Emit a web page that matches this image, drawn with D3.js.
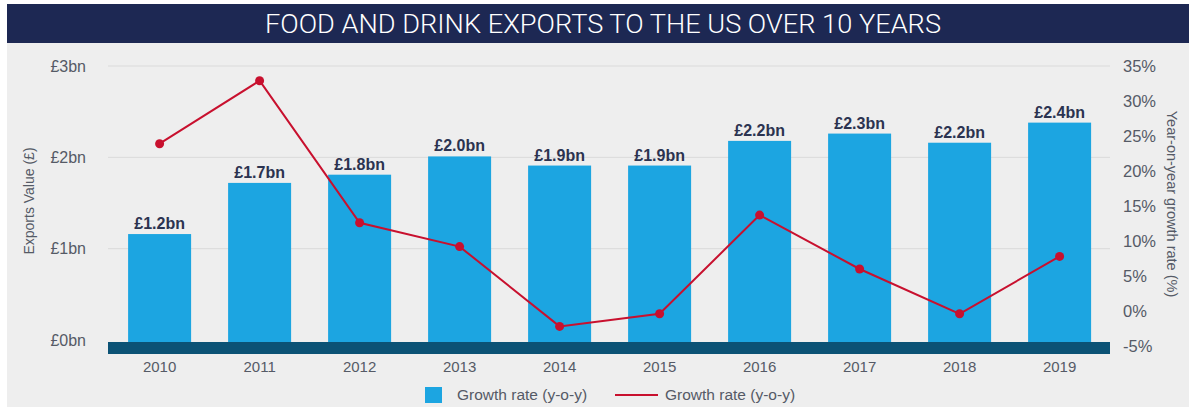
<!DOCTYPE html>
<html>
<head>
<meta charset="utf-8">
<script src="https://cdn.jsdelivr.net/npm/d3@7"></script>
<style>
  html, body { margin: 0; padding: 0; background: #ffffff; }
  svg { display: block; }
</style>
</head>
<body>
<svg id="chart" width="1189" height="407"></svg>
<script>
// Food and drink exports to the US, 2010–2019
const years = ["2010", "2011", "2012", "2013", "2014", "2015", "2016", "2017", "2018", "2019"];
const exportsBn = [1.16, 1.72, 1.81, 2.01, 1.91, 1.91, 2.18, 2.26, 2.16, 2.38];
const growthPct = [23.9, 32.9, 12.6, 9.2, -2.2, -0.4, 13.7, 6.0, -0.4, 7.8];
const leftTicks = [0, 1, 2, 3];
const rightTicks = [-5, 0, 5, 10, 15, 20, 25, 30, 35];
const titleText = "FOOD AND DRINK EXPORTS TO THE US OVER 10 YEARS";
const legendItems = ["Growth rate (y-o-y)", "Growth rate (y-o-y)"];

const W = 1189, H = 407;
const svg = d3.select("#chart");

const colors = {
  bg: "#eeeeee",
  title: "#1d2853",
  bar: "#1ca5e1",
  base: "#0b5275",
  line: "#c8102e",
  grid: "#dadada",
  text: "#555a66",
  label: "#2b3350"
};
const font = "'Liberation Sans', Arial, sans-serif";

// frame
svg.append("rect").attr("x", 7).attr("y", 43).attr("width", W - 7).attr("height", H - 43).attr("fill", colors.bg);
svg.append("rect").attr("x", 7).attr("y", 4).attr("width", W - 7).attr("height", 39).attr("fill", colors.title);
svg.append("text")
  .attr("x", 603).attr("y", 33)
  .attr("text-anchor", "middle")
  .attr("fill", "#ffffff")
  .style("font-family", "Roboto, 'Liberation Sans', sans-serif")
  .style("font-weight", "300")
  .style("font-size", "25px")
  .attr("textLength", 676)
  .attr("lengthAdjust", "spacingAndGlyphs")
  .text(titleText);

// scales
const x = d3.scaleBand().domain(years).range([109.6, 1109.6]).paddingInner(0.37).paddingOuter(0.185);
const yL = d3.scaleLinear().domain([0, 3]).range([340, 66]);
const yR = d3.scaleLinear().domain([-5, 35]).range([346, 66]);

const plotLeft = 108, plotRight = 1110;

// gridlines
svg.append("g").selectAll("line")
  .data(leftTicks.filter(d => d > 0))
  .join("line")
  .attr("x1", plotLeft).attr("x2", plotRight)
  .attr("y1", d => yL(d)).attr("y2", d => yL(d))
  .attr("stroke", colors.grid).attr("stroke-width", 1);

// left axis
const leftAxis = d3.axisLeft(yL).tickValues(leftTicks).tickSize(0).tickPadding(0)
  .tickFormat(d => "£" + d + "bn");
const gL = svg.append("g").attr("transform", "translate(86,0)").call(leftAxis);
gL.select(".domain").remove();
gL.selectAll("text")
  .attr("fill", colors.text)
  .style("font-family", font)
  .style("font-size", "16px");

// right axis
const rightAxis = d3.axisRight(yR).tickValues(rightTicks).tickSize(0).tickPadding(0)
  .tickFormat(d => d + "%");
const gR = svg.append("g").attr("transform", "translate(1123,0)").call(rightAxis);
gR.select(".domain").remove();
gR.selectAll("text")
  .attr("fill", colors.text)
  .style("font-family", font)
  .style("font-size", "16.5px");

// axis titles
svg.append("text")
  .attr("transform", "translate(34,201) rotate(-90)")
  .attr("text-anchor", "middle")
  .attr("fill", colors.text)
  .style("font-family", font)
  .style("font-size", "14px")
  .text("Exports Value (£)");
svg.append("text")
  .attr("transform", "translate(1167,204) rotate(90)")
  .attr("text-anchor", "middle")
  .attr("fill", colors.text)
  .style("font-family", font)
  .style("font-size", "14.5px")
  .text("Year-on-year growth rate (%)");

// bars
const barData = years.map((y, i) => ({ year: y, value: exportsBn[i] }));
svg.append("g").selectAll("rect")
  .data(barData)
  .join("rect")
  .attr("x", d => x(d.year))
  .attr("width", x.bandwidth())
  .attr("y", d => yL(d.value))
  .attr("height", d => yL(0) + 2 - yL(d.value))
  .attr("fill", colors.bar);

// bar value labels
const fmt = d3.format(".1f");
svg.append("g").selectAll("text")
  .data(barData)
  .join("text")
  .attr("x", d => x(d.year) + x.bandwidth() / 2)
  .attr("y", d => yL(d.value) - 5)
  .attr("text-anchor", "middle")
  .attr("fill", colors.label)
  .style("font-family", font)
  .style("font-size", "16px")
  .style("font-weight", "bold")
  .text(d => "£" + fmt(d.value) + "bn");

// baseline band
svg.append("rect")
  .attr("x", plotLeft).attr("width", plotRight - plotLeft)
  .attr("y", yL(0) + 2).attr("height", 12)
  .attr("fill", colors.base);

// x axis labels
const xAxis = d3.axisBottom(x).tickSize(0).tickPadding(0);
const gX = svg.append("g").attr("transform", "translate(0,361)").call(xAxis);
gX.select(".domain").remove();
gX.selectAll("text")
  .attr("fill", colors.text)
  .attr("dy", "0.71em")
  .style("font-family", font)
  .style("font-size", "15px");

// growth line
const lineData = years.map((y, i) => ({ year: y, value: growthPct[i] }));
const line = d3.line()
  .x(d => x(d.year) + x.bandwidth() / 2)
  .y(d => yR(d.value));
svg.append("path")
  .datum(lineData)
  .attr("d", line)
  .attr("fill", "none")
  .attr("stroke", colors.line)
  .attr("stroke-width", 2);
svg.append("g").selectAll("circle")
  .data(lineData)
  .join("circle")
  .attr("cx", d => x(d.year) + x.bandwidth() / 2)
  .attr("cy", d => yR(d.value))
  .attr("r", 4.5)
  .attr("fill", colors.line);

// legend
const lg = svg.append("g").style("font-family", font).style("font-size", "15.5px");
lg.append("rect").attr("x", 425).attr("y", 387).attr("width", 17).attr("height", 16).attr("fill", colors.bar);
lg.append("text").attr("x", 457).attr("y", 400).attr("fill", colors.text).text(legendItems[0]);
lg.append("line").attr("x1", 615).attr("x2", 658).attr("y1", 395).attr("y2", 395)
  .attr("stroke", colors.line).attr("stroke-width", 2);
lg.append("text").attr("x", 665).attr("y", 400).attr("fill", colors.text).text(legendItems[1]);
</script>
</body>
</html>
